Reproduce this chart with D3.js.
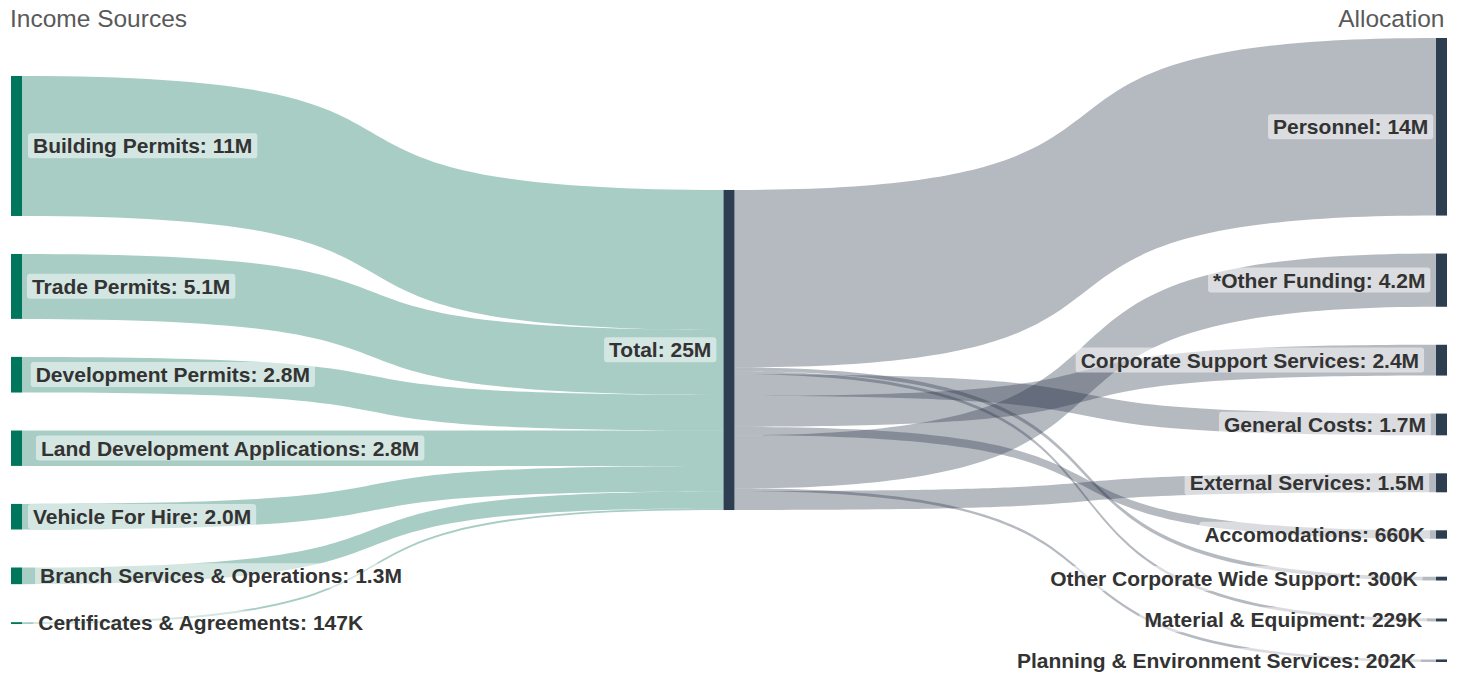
<!DOCTYPE html>
<html>
<head>
<meta charset="utf-8">
<script src="https://cdn.jsdelivr.net/npm/d3@7"></script>
<style>
  html, body { margin: 0; padding: 0; background: #fff; }
  svg { display: block; font-family: "Liberation Sans", Arial, Helvetica, sans-serif; }
</style>
</head>
<body>
<svg id="chart" width="1465" height="675"></svg>
<script>
// ---- data ----
const sourceNames = ["Building Permits", "Trade Permits", "Development Permits", "Land Development Applications",
  "Vehicle For Hire", "Branch Services & Operations", "Certificates & Agreements"];
const sourceValues = [11.0e6, 5.1e6, 2.8e6, 2.78e6, 2.01e6, 1.31e6, 147e3];

const totalName = "Total";

const allocationNames = ["Personnel", "*Other Funding", "Corporate Support Services", "General Costs",
  "External Services", "Accomodations", "Other Corporate Wide Support", "Material & Equipment",
  "Planning & Environment Services"];
const allocationValues = [13.95e6, 4.18e6, 2.42e6, 1.71e6, 1.49e6, 660e3, 300e3, 229e3, 202e3];

// order in which the allocation links leave the Total node (top to bottom)
const outgoingOrder = ["Personnel", "Other Corporate Wide Support", "Material & Equipment", "General Costs",
  "Corporate Support Services", "Accomodations", "*Other Funding", "Planning & Environment Services",
  "External Services"];

const columnTitles = ["Income Sources", "Allocation"];

// ---- layout ----
const W = 1465, H = 675;
const ext = { x0: 11, x1: 1447, y0: 38, y1: 662 };
const nodeWidth = 11, nodePad = 38, curv = 0.72;

const nodes = [];
const byName = new Map();
function addNode(name, col) { const n = { name, col, sourceLinks: [], targetLinks: [] }; nodes.push(n); byName.set(name, n); return n; }
sourceNames.forEach(n => addNode(n, 0));
addNode(totalName, 1);
allocationNames.forEach(n => addNode(n, 2));

const links = [];
sourceNames.forEach((n, i) => links.push({ source: byName.get(n), target: byName.get(totalName), value: sourceValues[i], side: 0 }));
outgoingOrder.forEach(n => {
  const i = allocationNames.indexOf(n);
  links.push({ source: byName.get(totalName), target: byName.get(n), value: allocationValues[i], side: 1 });
});
links.forEach(l => { l.source.sourceLinks.push(l); l.target.targetLinks.push(l); });
nodes.forEach(n => {
  n.value = Math.max(d3.sum(n.sourceLinks, l => l.value), d3.sum(n.targetLinks, l => l.value));
});

const columns = d3.groups(nodes, n => n.col).sort((a, b) => a[0] - b[0]).map(d => d[1]);
const ky = d3.min(columns, c => (ext.y1 - ext.y0 - (c.length - 1) * nodePad) / d3.sum(c, n => n.value));
const size = d3.scaleLinear().domain([0, 1]).range([0, ky]);
const xCol = d3.scaleLinear().domain([0, columns.length - 1]).range([ext.x0, ext.x1 - nodeWidth]);

columns.forEach(col => {
  const total = d3.sum(col, n => size(n.value)) + (col.length - 1) * nodePad;
  let y = (ext.y0 + ext.y1) / 2 - total / 2;
  col.forEach(n => {
    n.x0 = xCol(n.col); n.x1 = n.x0 + nodeWidth;
    n.y0 = y; n.y1 = y + size(n.value);
    y = n.y1 + nodePad;
  });
});
nodes.forEach(n => {
  let ys = n.y0;
  n.sourceLinks.forEach(l => { l.width = size(l.value); l.sy0 = ys; l.sy1 = ys + l.width; ys += l.width; });
  let yt = n.y0;
  n.targetLinks.forEach(l => { l.ty0 = yt; l.ty1 = yt + size(l.value); yt += size(l.value); });
});

function linkPath(l) {
  const x0 = l.source.x1, x1 = l.target.x0, dx = x1 - x0;
  const xa = x0 + dx * curv, xb = x1 - dx * curv;
  const p = d3.path();
  p.moveTo(x0, l.sy0);
  p.bezierCurveTo(xa, l.sy0, xb, l.ty0, x1, l.ty0);
  p.lineTo(x1, l.ty1);
  p.bezierCurveTo(xb, l.ty1, xa, l.sy1, x0, l.sy1);
  p.closePath();
  return p.toString();
}

const fmt = v => (v >= 1e6 ? d3.format(".2s")(v) : d3.format(".3s")(v)).replace("k", "K");

const linkColors = ["rgb(4,112,89)", "rgb(44,55,75)"];
const nodeColors = ["#00775c", "#2c3e50", "#2c3e50"];

// ---- draw ----
const svg = d3.select("#chart");

svg.append("g").selectAll("path").data(links).join("path")
  .attr("d", linkPath)
  .attr("fill", d => linkColors[d.side])
  .attr("fill-opacity", 0.35);

svg.append("g").selectAll("rect").data(nodes).join("rect")
  .attr("x", d => d.x0).attr("y", d => d.y0)
  .attr("width", d => d.x1 - d.x0).attr("height", d => Math.max(1, d.y1 - d.y0))
  .attr("fill", d => nodeColors[d.col]);

const labelInset = [0, 7, 0];
const lg = svg.append("g");
nodes.forEach(n => {
  const g = lg.append("g");
  const bg = g.append("rect");
  const t = g.append("text")
    .attr("font-size", 21).attr("font-weight", "bold").attr("fill", "#333")
    .attr("dy", "0.35em")
    .attr("y", (n.y0 + n.y1) / 2)
    .text(`${n.name}: ${fmt(n.value)}`);
  const w = t.node().getComputedTextLength();
  if (n.col === 0) {
    t.attr("x", n.x1 + 0.05 * w + labelInset[n.col]).attr("text-anchor", "start");
  } else {
    t.attr("x", n.x0 - 0.05 * w - labelInset[n.col]).attr("text-anchor", "end");
  }
  const bb = t.node().getBBox();
  bg.attr("x", bb.x - 5).attr("y", bb.y - 1).attr("width", bb.width + 10).attr("height", bb.height + 2)
    .attr("rx", 3).attr("fill", "#fff").attr("fill-opacity", 0.5);
});

svg.append("text").attr("x", 10).attr("y", 27).attr("font-size", 24.5).attr("fill", "#595959")
  .text(columnTitles[0]);
svg.append("text").attr("x", 1444.5).attr("y", 27).attr("font-size", 24.5).attr("fill", "#595959")
  .attr("text-anchor", "end").text(columnTitles[1]);
</script>
</body>
</html>
